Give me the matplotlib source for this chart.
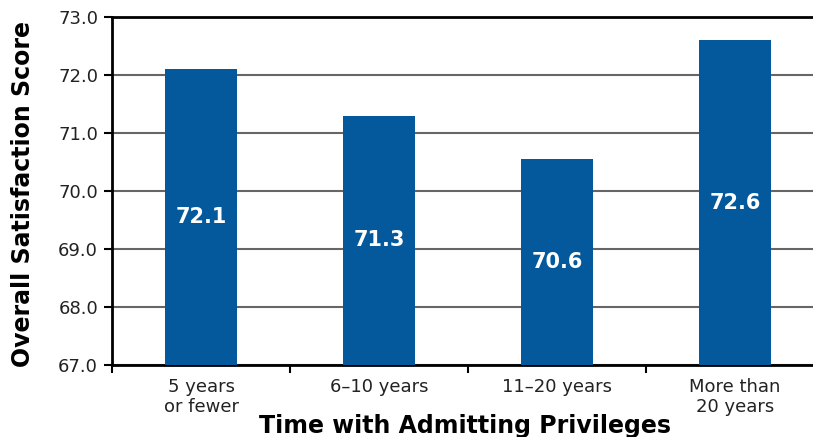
import matplotlib
matplotlib.use("Agg")
import matplotlib.pyplot as plt

categories = ["5 years\nor fewer", "6\u201310 years", "11\u201320 years", "More than\n20 years"]
values = [72.1, 71.3, 70.55, 72.6]
value_labels = ["72.1", "71.3", "70.6", "72.6"]
yticks = [67.0, 68.0, 69.0, 70.0, 71.0, 72.0, 73.0]

plt.rcParams['font.family'] = ['DejaVu Sans']

fig = plt.figure(figsize=(8.13, 4.37), dpi=100)
ax = fig.add_axes([112/813, 72/437, 712/813, 348/437])

bar_color = "#03599C"
x = list(range(len(categories)))
ax.bar(x, [v - 67.0 for v in values], bottom=67.0, width=0.405, color=bar_color, zorder=3)

for xi, v, lab in zip(x, values, value_labels):
    ax.text(xi, (v + 67.0) / 2, lab, ha="center", va="center", color="white",
            fontsize=15, fontweight="bold", zorder=4)

ax.set_ylim(67.0, 73.0)
ax.set_xlim(-0.5, 3.5)
ax.set_yticks(yticks)
ax.set_yticklabels([f"{t:.1f}" for t in yticks], fontsize=13)
ax.yaxis.grid(True, color="#666666", linewidth=1.5, zorder=1)

ax.set_xticks([-0.5, 0.5, 1.5, 2.5])
ax.set_xticklabels([])
ax.set_xticks(x, minor=True)
ax.set_xticklabels(categories, minor=True, fontsize=13, color="#222222")
ax.tick_params(axis="x", which="minor", length=0, pad=9)
ax.tick_params(axis="x", which="major", length=6, width=1.5, direction="out")
ax.tick_params(axis="y", length=6, width=1.5, pad=4, labelcolor="#222222")

for s in ["left", "bottom", "top"]:
    ax.spines[s].set_linewidth(2)
    ax.spines[s].set_color("black")
ax.spines["right"].set_visible(False)

ax.set_ylabel("Overall Satisfaction Score", fontsize=17, fontweight="bold")
ax.set_xlabel("Time with Admitting Privileges", fontsize=17, fontweight="bold")
ax.xaxis.set_label_coords((465 - 112) / 712, -(414 - 365) / 348)
ax.yaxis.set_label_coords(-(112 - 35) / 712, 0.49)

fig.savefig("out.png", dpi=100)
